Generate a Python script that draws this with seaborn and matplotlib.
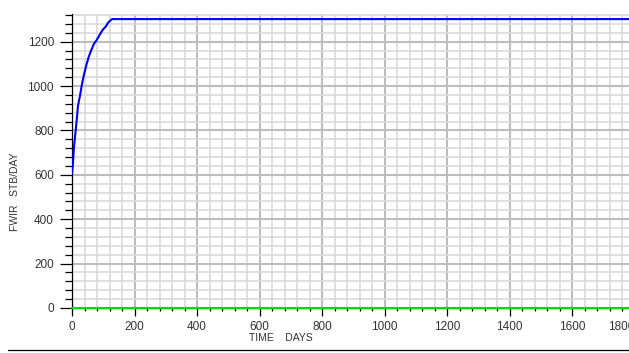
import numpy as np
import pandas as pd
import matplotlib
matplotlib.use('Agg')
import matplotlib.pyplot as plt
from matplotlib.lines import Line2D
from matplotlib.ticker import MultipleLocator
import seaborn as sns

# water injection rate history
time_days = [0, 3, 6, 11, 16, 19, 26, 32, 38, 45, 53, 61, 70, 80, 90, 99, 109, 115, 122, 128, 1830]
fwir = [607, 650, 720, 790, 860, 910, 960, 1010, 1050, 1090, 1130, 1160, 1190, 1210, 1235,
        1255, 1270, 1285, 1295, 1302, 1302]
# second (green) series stays at zero
zero_time = [0, 1830]
zero_rate = [0, 0]

sns.set_style('white')
plt.rcParams['font.family'] = ['Liberation Sans', 'DejaVu Sans']

W, H = 629, 353
fig = plt.figure(figsize=(W / 100, H / 100), dpi=100)
ax = fig.add_axes([72 / W, 45 / H, 572 / W, 294 / H])

df_inj = pd.DataFrame({'TIME': time_days, 'FWIR': fwir})
df_zero = pd.DataFrame({'TIME': zero_time, 'FWIR': zero_rate})

sns.lineplot(data=df_inj, x='TIME', y='FWIR', ax=ax, color='#0000ff', lw=1.5, sort=False, zorder=5)
sns.lineplot(data=df_zero, x='TIME', y='FWIR', ax=ax, color='#00dd00', lw=1.5, sort=False,
             zorder=6, clip_on=False)

ax.set_xlim(0, 1830)
ax.set_ylim(0, 1325)
ax.xaxis.set_major_locator(MultipleLocator(200))
ax.xaxis.set_minor_locator(MultipleLocator(40))
ax.yaxis.set_major_locator(MultipleLocator(200))
ax.yaxis.set_minor_locator(MultipleLocator(40))

ax.grid(which='major', color='#bdbdbd', lw=1.5)
ax.grid(which='minor', color='#dadada', lw=1.2)
ax.set_axisbelow(True)

for s in ['top', 'right']:
    ax.spines[s].set_visible(False)
ax.spines['left'].set_color('black')
ax.spines['left'].set_linewidth(0.9)
ax.spines['bottom'].set_color('black')
ax.spines['bottom'].set_linewidth(0.9)

ax.tick_params(axis='x', which='major', length=6, width=0.9, color='black',
               labelsize=8.5, labelcolor='#333333', pad=3, direction='out', bottom=True)
ax.tick_params(axis='x', which='minor', length=2.5, width=0.9, color='black', bottom=True)
ax.tick_params(axis='y', which='major', length=9, width=0.9, color='black',
               labelsize=8.5, labelcolor='#333333', pad=4, direction='out', left=True)
ax.tick_params(axis='y', which='minor', length=4.8, width=0.9, color='black', left=True)

ax.set_xlabel('')
ax.set_ylabel('')
fig.text(15 / W, 1 - 192 / H, 'FWIR   STB/DAY', rotation=90, ha='center', va='center',
         fontsize=7.5, color='#333333')
fig.text(281 / W, 15 / H, 'TIME    DAYS', ha='center', va='center', fontsize=7.5, color='#333333')

# separator line at the bottom of the panel
fig.add_artist(Line2D([8 / W, 1.0], [3.5 / H, 3.5 / H], transform=fig.transFigure,
                      color='black', lw=0.9))

# the last x label sits left of its tick so it stays mostly inside the picture
fig.canvas.draw()
for tick in ax.xaxis.get_major_ticks():
    if abs(tick.get_loc() - 1800) < 1:
        tick.label1.set_horizontalalignment('right')

fig.savefig('out.png', dpi=100)
plt.close(fig)
